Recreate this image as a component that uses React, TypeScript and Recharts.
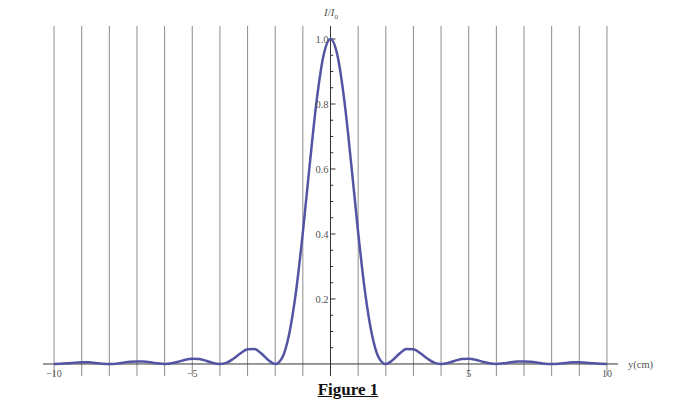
import { LineChart, Line, XAxis, YAxis, ReferenceLine } from "recharts";

// positions along the screen (cm)
const positions = [
  -10, -9.75, -9.5, -9.25, -9, -8.75, -8.5, -8.25, -8, -7.75, -7.5, -7.25, -7, -6.75, -6.5, -6.25,
  -6, -5.75, -5.5, -5.25, -5, -4.75, -4.5, -4.25, -4, -3.75, -3.5, -3.25, -3, -2.75, -2.5, -2.25,
  -2, -1.75, -1.5, -1.25, -1, -0.75, -0.5, -0.25, 0, 0.25, 0.5, 0.75, 1, 1.25, 1.5, 1.75,
  2, 2.25, 2.5, 2.75, 3, 3.25, 3.5, 3.75, 4, 4.25, 4.5, 4.75, 5, 5.25, 5.5, 5.75,
  6, 6.25, 6.5, 6.75, 7, 7.25, 7.5, 7.75, 8, 8.25, 8.5, 8.75, 9, 9.25, 9.5, 9.75, 10,
];

// relative intensity I/I0
const intensity = [
  0.0, 0.001, 0.002, 0.004, 0.005, 0.005, 0.003, 0.001, 0.0, 0.001, 0.004, 0.007, 0.008, 0.008, 0.005, 0.002,
  0.0, 0.002, 0.007, 0.013, 0.016, 0.015, 0.01, 0.003, 0.0, 0.004, 0.017, 0.033, 0.045, 0.046, 0.032, 0.012,
  0.0, 0.019, 0.09, 0.221, 0.405, 0.615, 0.811, 0.95, 1.0, 0.95, 0.811, 0.615, 0.405, 0.221, 0.09, 0.019,
  0.0, 0.012, 0.032, 0.046, 0.045, 0.033, 0.017, 0.004, 0.0, 0.003, 0.01, 0.015, 0.016, 0.013, 0.007, 0.002,
  0.0, 0.002, 0.005, 0.008, 0.008, 0.007, 0.004, 0.001, 0.0, 0.001, 0.003, 0.005, 0.005, 0.004, 0.002, 0.001, 0.0,
];

const xLabelTicks = [-10, -5, 5, 10];
const gridXs = [-10, -9, -8, -7, -6, -5, -4, -3, -2, -1, 1, 2, 3, 4, 5, 6, 7, 8, 9, 10];
const yMajorTicks = [0.2, 0.4, 0.6, 0.8, 1.0];
const yMinorTicks = [0.05, 0.1, 0.15, 0.25, 0.3, 0.35, 0.45, 0.5, 0.55, 0.65, 0.7, 0.75, 0.85, 0.9, 0.95];

const data = positions.map((y, i) => ({ y, v: intensity[i] }));

const XTick = (props: any) => {
  const { x, y, payload } = props;
  const v = payload.value;
  const txt = v < 0 ? `\u2212${Math.abs(v)}` : `${v}`;
  return (
    <text x={x} y={y + 1} textAnchor="middle" fontSize={10} fill="#555" fontFamily="Liberation Serif, serif">
      {txt}
    </text>
  );
};

export default function App() {
  return (
    <div style={{ position: "absolute", left: 0, top: 0, width: 700, height: 406, background: "#fff", fontFamily: "Liberation Serif, serif" }}>
      <LineChart width={700} height={406} data={data} margin={{ top: 26, right: 82, bottom: 0, left: 43 }}>
        <XAxis
          dataKey="y"
          type="number"
          domain={[-10.4, 10.4]}
          ticks={xLabelTicks}
          interval={0}
          axisLine={false}
          tickLine={false}
          tickSize={0}
          tickMargin={0}
          height={30}
          tick={XTick}
          allowDataOverflow
        />
        <YAxis type="number" domain={[-0.037, 1.04]} hide allowDataOverflow />
        {gridXs.map((g) => (
          <ReferenceLine key={`g${g}`} x={g} stroke="#8c8c8c" strokeWidth={1} />
        ))}
        <ReferenceLine y={0} stroke="#333" strokeWidth={1} />
        <ReferenceLine x={0} stroke="#333" strokeWidth={1} />
        {yMinorTicks.map((t) => (
          <ReferenceLine key={`m${t}`} segment={[{ x: 0, y: t }, { x: 0.1, y: t }]} stroke="#333" strokeWidth={1} />
        ))}
        {yMajorTicks.map((t) => (
          <ReferenceLine
            key={`M${t}`}
            segment={[{ x: 0, y: t }, { x: 0.18, y: t }]}
            stroke="#333"
            strokeWidth={1}
            label={{ value: t.toFixed(1), position: "left", offset: 2, fontSize: 10.5, fill: "#555", fontFamily: "Liberation Serif, serif" }}
          />
        ))}
        <Line
          type="monotone"
          dataKey="v"
          stroke="#5454a4"
          strokeWidth={2.5}
          dot={false}
          isAnimationActive={false}
        />
      </LineChart>
      <div style={{ position: "absolute", left: 316, top: 6, width: 30, textAlign: "center", fontSize: 11, color: "#555", whiteSpace: "nowrap" }}>
        <i>I</i>/<i>I</i>
        <sub style={{ fontSize: 7 }}>0</sub>
      </div>
      <div style={{ position: "absolute", left: 628, top: 359, fontSize: 10.5, color: "#555", whiteSpace: "nowrap" }}>y(cm)</div>
      <div
        style={{
          position: "absolute",
          left: 298,
          top: 380,
          width: 100,
          textAlign: "center",
          fontSize: 17,
          fontWeight: "bold",
          textDecoration: "underline",
          color: "#111",
          whiteSpace: "nowrap",
        }}
      >
        Figure 1
      </div>
    </div>
  );
}
